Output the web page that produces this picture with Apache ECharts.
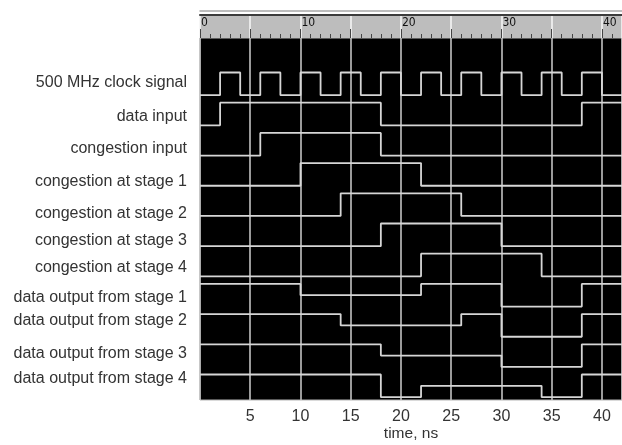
<!DOCTYPE html>
<html>
<head>
<meta charset="utf-8">
<script src="https://cdn.jsdelivr.net/npm/echarts@6/dist/echarts.min.js"></script>
<style>
  html, body { margin: 0; padding: 0; background: #fff; }
  #chart { width: 622px; height: 445px; }
</style>
</head>
<body>
<div id="chart"></div>
<script>
// signal names, top to bottom
const signalNames = [
  '500 MHz clock signal',
  'data input',
  'congestion input',
  'congestion at stage 1',
  'congestion at stage 2',
  'congestion at stage 3',
  'congestion at stage 4',
  'data output from stage 1',
  'data output from stage 2',
  'data output from stage 3',
  'data output from stage 4',
]

// [time in ns, level]  level: 1 high, 0.5 middle, 0 low
const clockSignal = [[0, 0], [2, 1], [4, 0], [6, 1], [8, 0], [10, 1], [12, 0], [14, 1], [16, 0], [18, 1], [20, 0],
  [22, 1], [24, 0], [26, 1], [28, 0], [30, 1], [32, 0], [34, 1], [36, 0], [38, 1], [40, 0]]
const dataInput = [[0, 0], [2, 1], [18, 0], [38, 1]]
const congestionInput = [[0, 0], [6, 1], [18, 0]]
const congestionStage1 = [[0, 0], [10, 1], [22, 0]]
const congestionStage2 = [[0, 0], [14, 1], [26, 0]]
const congestionStage3 = [[0, 0], [18, 1], [30, 0]]
const congestionStage4 = [[0, 0], [22, 1], [34, 0]]
const dataOutput1 = [[0, 1], [10, 0.5], [22, 1], [30, 0], [38, 1]]
const dataOutput2 = [[0, 1], [14, 0.5], [26, 1], [30, 0], [38, 1]]
const dataOutput3 = [[0, 1], [18, 0.5], [30, 0], [38, 1]]
const dataOutput4 = [[0, 1], [18, 0], [22, 0.5], [34, 0], [38, 1]]

const signals = [clockSignal, dataInput, congestionInput, congestionStage1, congestionStage2, congestionStage3,
  congestionStage4, dataOutput1, dataOutput2, dataOutput3, dataOutput4]

// time axis
const timeMin = 0
const timeMax = 42
const timeStep = 5
const rulerLabelStep = 10

// layout (row units): swing height of each trace, and where each name sits
const swing = 0.75
const labelNudge = [0.32, 0.46, 0.51, 0.6, 0.66, 0.57, 0.45, 0.44, 0.22, 0.3, 0.15]

const labelPos = signalNames.map((n, i) => +(i + labelNudge[i]).toFixed(3))

const traceColor = '#d6d6d6'
const font = 'Liberation Sans, Arial, Helvetica, sans-serif'

const series = signals.map((pts, row) => {
  const last = pts[pts.length - 1]
  const data = pts.concat([[timeMax, last[1]]]).map(p => [p[0], row + (1 - p[1]) * swing])
  return {
    name: signalNames[row],
    type: 'line',
    step: 'end',
    xAxisIndex: 0,
    yAxisIndex: 0,
    symbol: 'none',
    silent: true,
    data,
    lineStyle: { color: traceColor, width: 1.8 },
  }
})

const chart = echarts.init(document.getElementById('chart'))

chart.setOption({
  animation: false,
  backgroundColor: '#fff',
  grid: [
    // black trace area
    {
      left: 200, right: 0, top: 38, bottom: 45, outerBoundsMode: 'none',
      show: true, backgroundColor: '#000', borderColor: '#b5b5b5', borderWidth: 1,
    },
    // gray ruler on top
    {
      left: 200, right: 0, top: 15, height: 23, outerBoundsMode: 'none',
      show: true, backgroundColor: '#bdbdbd', borderWidth: 0,
    },
  ],
  xAxis: [
    {
      gridIndex: 0,
      type: 'value',
      min: timeMin,
      max: timeMax,
      interval: timeStep,
      position: 'bottom',
      name: 'time, ns',
      nameLocation: 'middle',
      nameGap: 26,
      nameMoveOverlap: false,
      nameTextStyle: { fontFamily: font, fontSize: 15.5, color: '#333' },
      axisLine: { show: false },
      axisTick: { show: false },
      axisLabel: {
        margin: 9,
        fontFamily: font,
        fontSize: 16,
        color: '#333',
        showMaxLabel: false,
        formatter: v => (v === timeMin ? '' : String(v)),
      },
      splitLine: { show: true, lineStyle: { color: '#c2c2c2', width: 1.6 } },
    },
    {
      gridIndex: 1,
      type: 'value',
      min: timeMin,
      max: timeMax,
      interval: timeStep,
      position: 'bottom',
      axisLine: { show: false },
      axisTick: { show: true, inside: true, length: 9, lineStyle: { color: '#444', width: 1 } },
      minorTick: { show: true, splitNumber: 5, length: 4, lineStyle: { color: '#444', width: 1 } },
      axisLabel: {
        inside: true,
        margin: 9,
        align: 'left',
        padding: [0, 0, 0, 1],
        fontFamily: 'Liberation Sans Narrow, DejaVu Sans Condensed, sans-serif',
        fontSize: 12,
        color: '#111',
        showMaxLabel: false,
        formatter: v => (v % rulerLabelStep === 0 ? String(v) : ''),
      },
      splitLine: { show: true, lineStyle: { color: '#f4f4f4', width: 1.6 } },
    },
    {
      gridIndex: 1,
      type: 'value',
      min: timeMin,
      max: timeMax,
      position: 'top',
      axisLine: { show: true, lineStyle: { color: '#3c3c3c', width: 2 } },
      axisTick: { show: false },
      axisLabel: { show: false },
      splitLine: { show: false },
    },
    {
      gridIndex: 1,
      type: 'value',
      min: timeMin,
      max: timeMax,
      position: 'top',
      offset: 4,
      axisLine: { show: true, lineStyle: { color: '#a8a8a8', width: 1.5 } },
      axisTick: { show: false },
      axisLabel: { show: false },
      splitLine: { show: false },
    },
  ],
  yAxis: [
    {
      gridIndex: 0,
      type: 'value',
      inverse: true,
      min: -1.142,
      max: 10.845,
      axisLine: { show: false },
      axisTick: { show: false },
      splitLine: { show: false },
      axisLabel: {
        customValues: labelPos,
        margin: 13,
        fontFamily: font,
        fontSize: 16,
        color: '#333',
        formatter: v => signalNames[labelPos.indexOf(v)] || '',
      },
    },
    {
      gridIndex: 1,
      type: 'value',
      show: false,
    },
  ],
  series,
})
</script>
</body>
</html>
